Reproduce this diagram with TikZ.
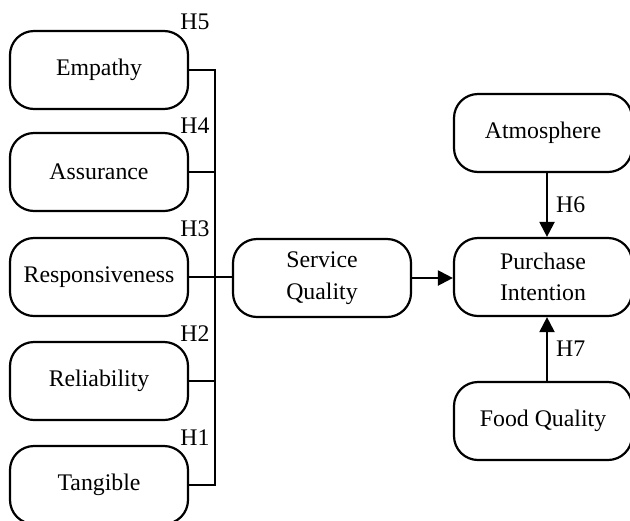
\documentclass[tikz,border=0pt]{standalone}
\usepackage{fontspec}
\setmainfont{Liberation Serif}
\usetikzlibrary{arrows.meta}
\begin{document}
\begin{tikzpicture}[x=0.5pt,y=-0.5pt,
  box/.style={draw, line width=1.1pt, rounded corners=12pt, minimum width=89pt, minimum height=39pt, inner sep=0pt, align=center, font=\fontsize{11.9}{15.8}\selectfont},
  hlab/.style={inner sep=0pt, font=\fontsize{11.9}{14}\selectfont},
  conn/.style={line width=1.1pt},
  arr/.style={line width=1.1pt, -{Triangle[length=7.5pt,width=7.5pt]}}]
\useasboundingbox (0,0) rectangle (630,520);
\node[box] (emp) at (99,70) {Empathy};
\node[box] (ass) at (99,172) {Assurance};
\node[box] (res) at (99,277) {Responsiveness};
\node[box] (rel) at (99,381) {Reliability};
\node[box] (tan) at (99,485) {Tangible};
\node[box] (sq) at (322,278) {Service\\Quality};
\node[box] (pi) at (543,277) {Purchase\\Intention};
\node[box] (atm) at (543,133) {Atmosphere};
\node[box] (fq) at (543,421) {Food Quality};
\node[hlab] (h5) at (195,22) {H5};
\node[hlab] (h4) at (195,126) {H4};
\node[hlab] (h3) at (195,229) {H3};
\node[hlab] (h2) at (195,334) {H2};
\node[hlab] (h1) at (195,438) {H1};
\coordinate (btop) at (215,70);
\coordinate (bbot) at (215,485);
\draw[conn] (emp.east) -- (btop) -- (bbot) -- (tan.east);
\draw[conn] (ass.east) -- (ass.east -| btop);
\draw[conn] (rel.east) -- (rel.east -| btop);
\draw[conn] (res.east) -- (sq.west |- res.east);
\draw[arr] (sq.east) -- (pi.west |- sq.east);
\draw[arr] ([xshift=2pt]atm.south) -- ([xshift=2pt]pi.north) node[hlab, midway, right=4pt] (h6) {H6};
\draw[arr] ([xshift=2pt]fq.north) -- ([xshift=2pt]pi.south) node[hlab, midway, right=4pt] (h7) {H7};
\end{tikzpicture}
\end{document}
